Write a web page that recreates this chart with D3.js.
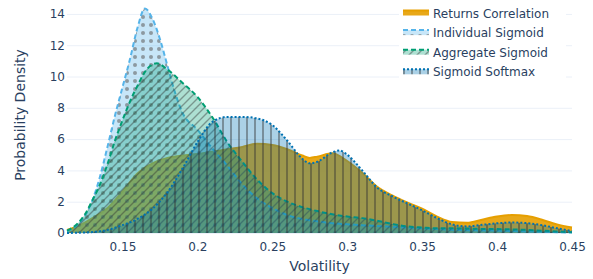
<!DOCTYPE html>
<html>
<head>
<meta charset="utf-8">
<script src="https://cdn.jsdelivr.net/npm/d3@7"></script>
<style>
body{margin:0;background:#fff;}
text{font-family:Verdana,"DejaVu Sans",sans-serif;fill:#2a3f5f;}
</style>
</head>
<body>
<script>
(function(){

//series names in drawing order
var seriesNames = ["Returns Correlation", "Individual Sigmoid", "Aggregate Sigmoid", "Sigmoid Softmax"];

//density curves, [volatility, density]
var returnsCorrelation = [[0.113,0.2],[0.12,0.42],[0.13,0.95],[0.14,1.6],[0.15,2.65],[0.16,3.8],[0.17,4.45],[0.18,4.8],[0.19,4.95],[0.2,5.05],[0.21,5.2],[0.22,5.35],[0.23,5.5],[0.24,5.7],[0.25,5.62],[0.26,5.35],[0.27,4.95],[0.275,4.8],[0.28,4.88],[0.29,5.1],[0.3,4.6],[0.31,3.85],[0.32,2.95],[0.33,2.4],[0.34,1.95],[0.35,1.55],[0.36,1.05],[0.37,0.7],[0.38,0.65],[0.39,0.85],[0.4,1.05],[0.41,1.15],[0.42,1.08],[0.43,0.85],[0.44,0.55],[0.45,0.35]];

var individualSigmoid = [[0.113,0.1],[0.12,0.5],[0.125,1.1],[0.13,2.1],[0.135,3.6],[0.14,5.5],[0.145,7.5],[0.15,9.3],[0.155,11.1],[0.16,13.1],[0.165,14.35],[0.17,13.7],[0.175,12.4],[0.18,10.7],[0.185,9.0],[0.19,7.7],[0.2,6.6],[0.21,5.4],[0.22,4.3],[0.23,3.1],[0.24,2.2],[0.25,1.6],[0.26,1.15],[0.27,0.9],[0.28,0.75],[0.29,0.63],[0.3,0.56],[0.31,0.5],[0.32,0.45],[0.33,0.4],[0.34,0.35],[0.35,0.3],[0.36,0.25],[0.37,0.2],[0.38,0.18],[0.39,0.16],[0.4,0.15],[0.41,0.13],[0.42,0.1],[0.43,0.08],[0.44,0.05],[0.45,0.03]];

var aggregateSigmoid = [[0.113,0.15],[0.12,0.6],[0.125,1.2],[0.13,2.1],[0.135,3.1],[0.14,4.4],[0.145,5.9],[0.15,7.2],[0.155,8.4],[0.16,9.4],[0.165,10.3],[0.173,10.85],[0.18,10.45],[0.19,9.6],[0.2,8.7],[0.21,7.4],[0.22,5.8],[0.23,4.55],[0.24,3.4],[0.25,2.55],[0.26,2.0],[0.27,1.65],[0.28,1.4],[0.29,1.2],[0.3,1.05],[0.31,0.95],[0.32,0.78],[0.33,0.58],[0.34,0.42],[0.35,0.35],[0.36,0.3],[0.37,0.3],[0.38,0.28],[0.39,0.26],[0.4,0.25],[0.41,0.23],[0.42,0.2],[0.43,0.15],[0.44,0.1],[0.45,0.05]];

var sigmoidSoftmax = [[0.113,0],[0.12,0.02],[0.13,0.06],[0.14,0.2],[0.15,0.5],[0.16,0.9],[0.17,1.55],[0.18,2.6],[0.19,4.1],[0.2,5.8],[0.21,7.1],[0.22,7.42],[0.23,7.42],[0.24,7.32],[0.25,6.9],[0.26,5.9],[0.27,4.75],[0.275,4.45],[0.28,4.55],[0.29,5.15],[0.295,5.27],[0.3,5.0],[0.31,4.0],[0.32,2.9],[0.33,2.35],[0.34,1.9],[0.35,1.45],[0.36,0.95],[0.37,0.55],[0.38,0.42],[0.39,0.52],[0.4,0.62],[0.41,0.67],[0.42,0.63],[0.43,0.5],[0.44,0.3],[0.45,0.12]];

//axis ticks
var xTicks = [0.15, 0.2, 0.25, 0.3, 0.35, 0.4, 0.45];
var yTicks = [0, 2, 4, 6, 8, 10, 12, 14];

//style for each series
var styles = [
    {color: "#E69F00", fillOpacity: 0.9, dash: null, pattern: null},
    {color: "#56B4E9", fillOpacity: 0.33, dash: "5,3", pattern: "dot"},
    {color: "#009E73", fillOpacity: 0.32, dash: "5,3", pattern: "slash"},
    {color: "#0072B2", fillOpacity: 0.33, dash: "2,2", pattern: "vline"}
];

var curves = [returnsCorrelation, individualSigmoid, aggregateSigmoid, sigmoidSoftmax];

var width = 593, height = 279;
var margin = {top: 5, right: 21, bottom: 46, left: 67};
var w = width - margin.left - margin.right,
    h = height - margin.top - margin.bottom;

var svg = d3.select("body")
    .append("svg")
    .attr("width", width)
    .attr("height", height);

//patterns for the fills
var defs = svg.append("defs");
styles.forEach(function(s, i){
    var p = defs.append("pattern")
        .attr("id", "pat" + i)
        .attr("patternUnits", "userSpaceOnUse")
        .attr("width", 8)
        .attr("height", 8);
    p.append("rect")
        .attr("width", 8)
        .attr("height", 8)
        .attr("fill", s.color)
        .attr("fill-opacity", s.fillOpacity);
    if (s.pattern == "dot"){
        p.append("circle")
            .attr("cx", 4).attr("cy", 4).attr("r", 2)
            .attr("fill", "#666").attr("fill-opacity", 0.6);
    } else if (s.pattern == "slash"){
        p.append("path")
            .attr("d", "M-2,2L2,-2M0,8L8,0M6,10L10,6")
            .attr("stroke", "#333").attr("stroke-opacity", 0.42)
            .attr("stroke-width", 1.4);
    } else if (s.pattern == "vline"){
        p.append("path")
            .attr("d", "M4,0V8")
            .attr("stroke", "#333").attr("stroke-opacity", 0.42)
            .attr("stroke-width", 2);
    };
});

var g = svg.append("g")
    .attr("transform", "translate(" + margin.left + "," + margin.top + ")");

var x = d3.scaleLinear().domain([0.113, 0.45]).range([0, w]);
var y = d3.scaleLinear().domain([0, 14.57]).range([h, 0]);

//horizontal gridlines
g.append("g")
    .call(d3.axisLeft(y).tickValues(yTicks).tickSize(-w).tickFormat(""))
    .call(function(a){
        a.select(".domain").remove();
        a.selectAll("line").attr("stroke", "#EBF0F8");
    });

var area = d3.area()
    .curve(d3.curveMonotoneX)
    .x(function(d){ return x(d[0]); })
    .y0(y(0))
    .y1(function(d){ return y(d[1]); });

var line = d3.line()
    .curve(d3.curveMonotoneX)
    .x(function(d){ return x(d[0]); })
    .y(function(d){ return y(d[1]); });

//filled densities
curves.forEach(function(c, i){
    g.append("path")
        .datum(c)
        .attr("d", area)
        .attr("fill", "url(#pat" + i + ")");
    g.append("path")
        .datum(c)
        .attr("d", line)
        .attr("fill", "none")
        .attr("stroke", styles[i].color)
        .attr("stroke-width", 2)
        .attr("stroke-dasharray", styles[i].dash);
});

//x axis
g.append("g")
    .attr("transform", "translate(0," + h + ")")
    .call(d3.axisBottom(x).tickValues(xTicks).tickSize(0).tickPadding(9).tickFormat(d3.format("~g")))
    .call(function(a){
        a.select(".domain").remove();
        a.selectAll("text").attr("font-size", 12).attr("font-family", null);
    });

//y axis
g.append("g")
    .call(d3.axisLeft(y).tickValues(yTicks).tickSize(0).tickPadding(2))
    .call(function(a){
        a.select(".domain").remove();
        a.selectAll("text").attr("font-size", 12).attr("font-family", null);
    });

//axis titles
svg.append("text")
    .attr("x", margin.left + w / 2)
    .attr("y", 271)
    .attr("text-anchor", "middle")
    .attr("font-size", 14)
    .text("Volatility");

svg.append("text")
    .attr("transform", "translate(25,115) rotate(-90)")
    .attr("text-anchor", "middle")
    .attr("font-size", 14)
    .text("Probability Density");

//legend
var legend = svg.append("g");
legend.append("rect")
    .attr("x", 399).attr("y", 1)
    .attr("width", 167).attr("height", 82)
    .attr("fill", "#fff");

seriesNames.forEach(function(name, i){
    var cy = 13 + i * 19.6;
    legend.append("rect")
        .attr("x", 403).attr("y", cy - 2.5)
        .attr("width", 26).attr("height", 5)
        .attr("fill", "url(#pat" + i + ")");
    legend.append("line")
        .attr("x1", 403).attr("x2", 429)
        .attr("y1", cy - 2.5).attr("y2", cy - 2.5)
        .attr("stroke", styles[i].color)
        .attr("stroke-width", 2)
        .attr("stroke-dasharray", styles[i].dash);
    legend.append("text")
        .attr("x", 433)
        .attr("y", cy + 4.5)
        .attr("font-size", 12)
        .text(name);
});

})();
</script>
</body>
</html>
